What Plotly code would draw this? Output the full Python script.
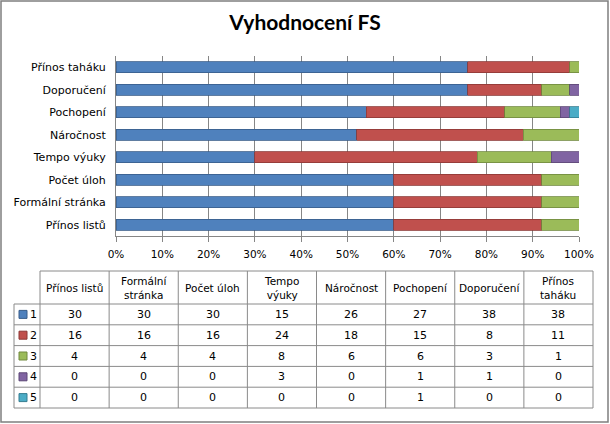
import plotly.graph_objects as go

# ---- data ----
categories = ["Přínos listů", "Formální stránka", "Počet úloh", "Tempo výuky",
              "Náročnost", "Pochopení", "Doporučení", "Přínos taháku"]
table_headers = ["Přínos listů", "Formální<br>stránka", "Počet úloh", "Tempo<br>výuky",
                 "Náročnost", "Pochopení", "Doporučení", "Přínos<br>taháku"]
series_names = ["1", "2", "3", "4", "5"]
s1 = [30, 30, 30, 15, 26, 27, 38, 38]
s2 = [16, 16, 16, 24, 18, 15, 8, 11]
s3 = [4, 4, 4, 8, 6, 6, 3, 1]
s4 = [0, 0, 0, 3, 0, 1, 1, 0]
s5 = [0, 0, 0, 0, 0, 1, 0, 0]
series_values = [s1, s2, s3, s4, s5]
x_ticks = [0, 10, 20, 30, 40, 50, 60, 70, 80, 90, 100]
x_tick_labels = ["0%", "10%", "20%", "30%", "40%", "50%", "60%", "70%", "80%", "90%", "100%"]
title = "Vyhodnocení FS"

# ---- styles ----
colors = ["#4F81BD", "#C0504D", "#9BBB59", "#8064A2", "#4BACC6"]
edge = ["#385D8A", "#8C3836", "#71893F", "#5C4776", "#357D91"]
W, H = 610, 424
GRID = "#868686"
FONT = "DejaVu Sans"


def px(x):
    return x / W


def py(y):
    return 1 - y / H


fig = go.Figure()
for name, vals, c, e in zip(series_names, series_values, colors, edge):
    fig.add_trace(go.Bar(
        y=categories, x=vals, name=name, orientation="h",
        marker=dict(color=c, line=dict(color=e, width=0.8)),
        showlegend=False, hoverinfo="skip",
    ))

# plot area in pixels
PL, PR, PT, PB = 116, 579, 56, 236

fig.update_layout(
    width=W, height=H,
    margin=dict(l=0, r=0, t=0, b=0, autoexpand=False),
    paper_bgcolor="white", plot_bgcolor="white",
    barmode="stack", barnorm="percent", bargap=0.5,
    font=dict(family=FONT, size=10, color="#000000"),
    title=dict(text="<b>" + title + "</b>", x=0.5, xanchor="center",
               y=py(23), yanchor="middle",
               font=dict(family="Lato", size=21, color="#000000")),
    xaxis=dict(domain=[px(PL), px(PR)], range=[0, 100], tickmode="array",
               tickvals=x_ticks, ticktext=x_tick_labels, automargin=False,
               showgrid=True, gridcolor=GRID, gridwidth=1,
               showline=True, linecolor=GRID, linewidth=1,
               ticks="outside", ticklen=5, tickcolor=GRID, ticklabelstandoff=3,
               tickfont=dict(family=FONT, size=10.5), zeroline=False, fixedrange=True),
    yaxis=dict(domain=[py(PB), py(PT)], showgrid=False, showline=True, automargin=False,
               linecolor=GRID, linewidth=1, ticks="", ticklabelstandoff=7,
               tickfont=dict(family=FONT, size=11), fixedrange=True),
)

shapes = []
annotations = []

# outer chart border
shapes.append(dict(type="rect", xref="paper", yref="paper",
                   x0=px(1), x1=px(W - 2), y0=py(H - 2), y1=py(1),
                   line=dict(color="#7F7F7F", width=1.5)))

# ---- data table ----
TL, C0, TR = 14, 40, 593
HT, HB, TB = 271, 304, 408
ncol = len(categories)
cw = (TR - C0) / ncol
nrow = len(series_names)
rh = (TB - HB) / nrow
LC = "#8A8A8A"


def line(x0, y0, x1, y1):
    shapes.append(dict(type="line", xref="paper", yref="paper",
                       x0=px(x0), y0=py(y0), x1=px(x1), y1=py(y1),
                       line=dict(color=LC, width=1)))


# horizontal lines
line(C0, HT, TR, HT)
for r in range(nrow + 1):
    y = HB + r * rh
    line(TL, y, TR, y)
# vertical lines
line(TL, HB, TL, TB)
for c in range(ncol + 1):
    x = C0 + c * cw
    line(x, HT, x, TB)

# header text
for c, h in enumerate(table_headers):
    annotations.append(dict(xref="paper", yref="paper", x=px(C0 + (c + 0.5) * cw),
                            y=py((HT + HB) / 2), text=h, showarrow=False,
                            xanchor="center", yanchor="middle",
                            font=dict(family=FONT, size=10.5)))

# rows
for r, (name, vals, col, e) in enumerate(zip(series_names, series_values, colors, edge)):
    yc = HB + (r + 0.5) * rh
    shapes.append(dict(type="rect", xref="paper", yref="paper",
                       x0=px(19), x1=px(27), y0=py(yc + 4), y1=py(yc - 4),
                       fillcolor=col, line=dict(color=e, width=1)))
    annotations.append(dict(xref="paper", yref="paper", x=px(28), y=py(yc),
                            text=name, showarrow=False, xanchor="left", yanchor="middle",
                            font=dict(family=FONT, size=11)))
    for c, v in enumerate(vals):
        annotations.append(dict(xref="paper", yref="paper", x=px(C0 + (c + 0.5) * cw),
                                y=py(yc), text=str(v), showarrow=False,
                                xanchor="center", yanchor="middle",
                                font=dict(family=FONT, size=11)))

fig.update_layout(shapes=shapes, annotations=annotations)
fig.write_html("out.html", config={"displayModeBar": False},
               post_script="document.body.style.margin='0';document.body.style.overflow='hidden';")
